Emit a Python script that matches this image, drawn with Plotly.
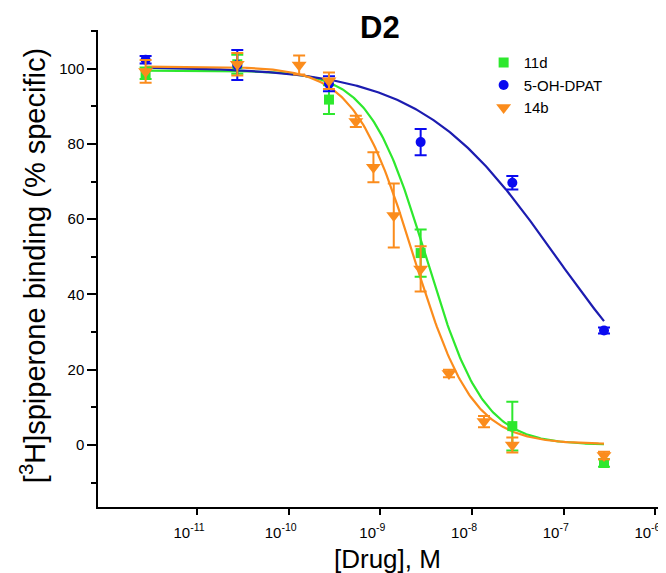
import numpy as np
import plotly.graph_objects as go

# ---- data ----
conc_11d = [2.75e-12, 2.75e-11, 2.75e-10, 2.75e-9, 2.75e-8, 2.75e-7]
val_11d = [98.8, 101.2, 91.8, 51.0, 5.0, -4.8]
err_11d = [1.5, 2.5, 3.8, 6.3, 6.5, 1.0]

conc_dpat = [2.75e-12, 2.75e-11, 2.75e-10, 2.75e-9, 2.75e-8, 2.75e-7]
val_dpat = [102.4, 101.0, 96.0, 80.5, 69.7, 30.4]
err_dpat = [1.0, 4.0, 2.0, 3.5, 1.8, 0.8]

conc_14b = [2.75e-12, 2.75e-11, 1.3e-10, 2.75e-10, 5.4e-10, 8.4e-10,
            1.4e-9, 2.75e-9, 5.6e-9, 1.35e-8, 2.75e-8, 2.75e-7]
val_14b = [99.3, 101.2, 101.0, 96.8, 86.0, 73.8, 61.0, 46.8, 19.0, 6.2, 0.0, -2.8]
err_14b = [3.0, 3.0, 2.5, 2.2, 1.5, 4.0, 8.5, 6.0, 1.0, 1.5, 2.0, 1.0]

# fitted sigmoid parameters (top, bottom, logIC50, Hill slope)
fit_11d = [99.5, 0.0, -8.50, 1.40]
fit_dpat = [100.5, 0.0, -7.09, 0.59]
fit_14b = [100.6, 0.2, -8.64, 1.35]

x_tickvals = [1e-11, 1e-10, 1e-9, 1e-8, 1e-7, 1e-6]
x_ticktext = ["10<sup>-11</sup>", "10<sup>-10</sup>", "10<sup>-9</sup>",
              "10<sup>-8</sup>", "10<sup>-7</sup>", "10<sup>-6</sup>"]
y_tickvals = [0, 20, 40, 60, 80, 100]

GREEN = "#2ee82e"
BLUE_M = "#0a0af0"
BLUE_L = "#1c1cb0"
ORANGE = "#fb8c1c"
FONT = "Liberation Sans, Arial, sans-serif"


def sigmoid(logx, p):
    top, bottom, logec, hill = p
    return bottom + (top - bottom) / (1 + 10 ** (hill * (logx - logec)))


fig = go.Figure()

series = [
    ("11d", conc_11d, val_11d, err_11d, fit_11d, GREEN, GREEN, "square", 10),
    ("5-OH-DPAT", conc_dpat, val_dpat, err_dpat, fit_dpat, BLUE_M, BLUE_L, "circle", 10),
    ("14b", conc_14b, val_14b, err_14b, fit_14b, ORANGE, ORANGE, "triangle-down", 13),
]

# fitted curves
for name, c, v, e, p, mcol, lcol, sym, size in series:
    lx = np.linspace(np.log10(min(c)), np.log10(max(c)), 300)
    fig.add_trace(go.Scatter(x=10 ** lx, y=sigmoid(lx, p), mode="lines",
                             line=dict(color=lcol, width=2.2),
                             showlegend=False, hoverinfo="skip"))

# data points with error bars
for name, c, v, e, p, mcol, lcol, sym, size in series:
    fig.add_trace(go.Scatter(
        x=c, y=v, mode="markers", name=name,
        marker=dict(symbol=sym, size=size, color=mcol, line=dict(width=0)),
        error_y=dict(type="data", array=e, visible=True, color=mcol,
                     thickness=2, width=6),
    ))

fig.update_layout(
    width=666, height=573, autosize=False,
    margin=dict(l=90, r=3, t=22, b=74),
    paper_bgcolor="white", plot_bgcolor="white",
    font=dict(family=FONT, color="black"),
    showlegend=True,
    legend=dict(x=0.673, y=0.966, xanchor="left", yanchor="top",
                bgcolor="rgba(0,0,0,0)", borderwidth=0,
                font=dict(family=FONT, size=15, color="black"),
                tracegroupgap=0, itemwidth=30),
    xaxis=dict(type="log", range=[-12.08, -5.83], automargin=False,
               tickvals=x_tickvals, ticktext=x_ticktext,
               ticks="outside", ticklen=6, tickwidth=1.5, tickcolor="black",
               ticklabelshift=-8, ticklabelstandoff=5,
               showline=True, linecolor="black", linewidth=1.5,
               showgrid=False, zeroline=False, mirror=False,
               tickfont=dict(family=FONT, size=15, color="black")),
    yaxis=dict(range=[-16.5, 110.3], tickvals=y_tickvals, automargin=False,
               ticks="outside", ticklen=9, tickwidth=1.5, tickcolor="black",
               minor=dict(dtick=10, tick0=0, ticks="outside", ticklen=5,
                          tickwidth=1.5, tickcolor="black"),
               showline=True, linecolor="black", linewidth=1.5,
               showgrid=False, zeroline=False, mirror=False,
               tickfont=dict(family=FONT, size=15, color="black")),
    annotations=[
        dict(text="<b>D2</b>", xref="paper", yref="paper",
             x=0.492, y=1.0042, xanchor="center", yanchor="middle",
             showarrow=False, font=dict(family=FONT, size=31, color="black")),
        dict(text="[<sup>3</sup>H]spiperone binding (% specific)",
             xref="paper", yref="paper", x=-0.1134, y=0.505,
             xanchor="center", yanchor="middle", textangle=-90,
             showarrow=False, font=dict(family=FONT, size=29, color="black")),
        dict(text="[Drug], M", xref="paper", yref="paper",
             x=0.506, y=-0.109, xanchor="center", yanchor="middle",
             showarrow=False, font=dict(family=FONT, size=26, color="black")),
    ],
)

fig.write_html("out.html")
